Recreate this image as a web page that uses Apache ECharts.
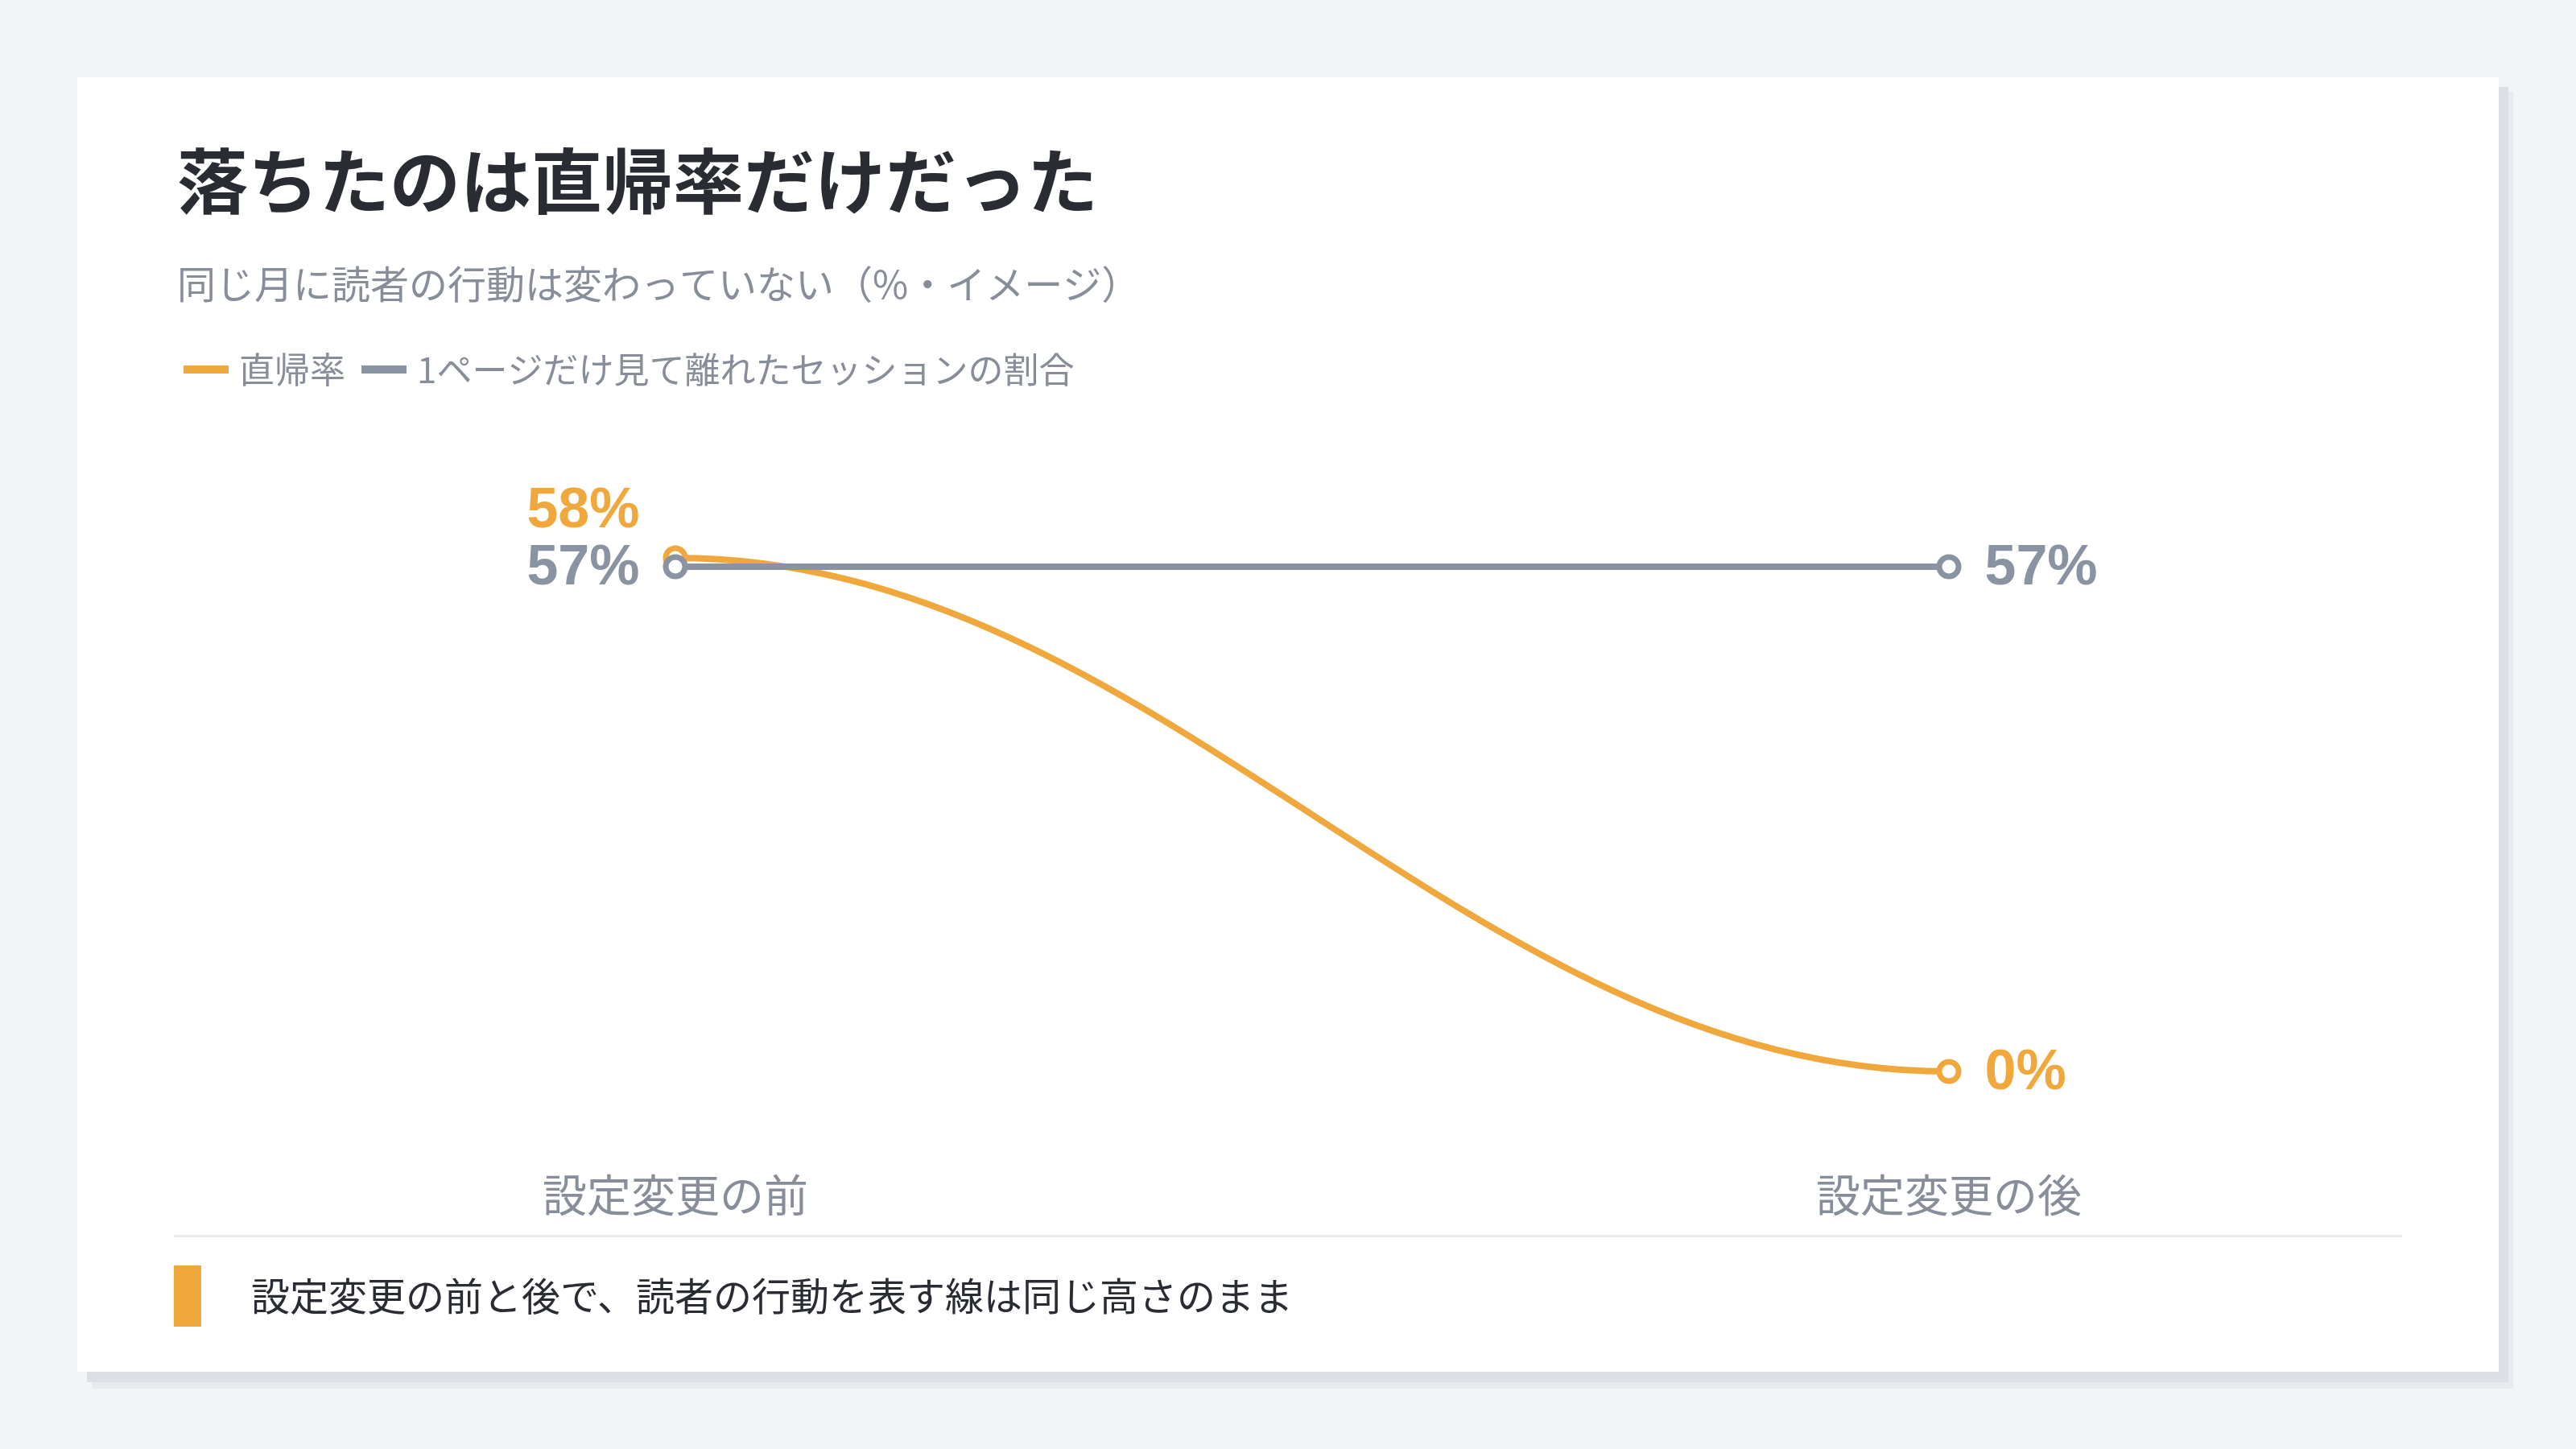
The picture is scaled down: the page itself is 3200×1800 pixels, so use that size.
<!DOCTYPE html>
<html>
<head>
<meta charset="utf-8">
<script src="https://cdn.jsdelivr.net/npm/echarts@6/dist/echarts.min.js"></script>
<style>
html,body{margin:0;padding:0;background:#f3f4f8;}
#chart{width:3200px;height:1800px;}
</style>
</head>
<body>
<div id="chart"></div>
<script>
const categories = ['設定変更の前', '設定変更の後'];
const bounceRate = [58, 0];
const singlePageRate = [57, 57];
const seriesNames = ['直帰率', '1ページだけ見て離れたセッションの割合'];
const titleText = '落ちたのは直帰率だけだった';
const subtitleText = '同じ月に読者の行動は変わっていない（%・イメージ）';
const noteText = '設定変更の前と後で、読者の行動を表す線は同じ高さのまま';

const ORANGE = '#F0A83C';
const GRAY = '#8A93A1';
const TEXT_GRAY = '#878D99';
const DARK = '#2A2C33';
const CJK = "'Noto Sans CJK JP', 'Noto Sans', sans-serif";
const NUM = "'Liberation Sans', 'Noto Sans CJK JP', sans-serif";

function pointData(values, leftOffset) {
  return values.map((v, i) => ({
    value: [i, v],
    label: {
      position: i === 0 ? 'left' : 'right',
      offset: i === 0 ? leftOffset : [0, 3]
    }
  }));
}

function markerSeries(name, values, color, z, leftOffset) {
  return {
    name: name,
    type: 'scatter',
    z: z,
    clip: false,
    data: pointData(values, leftOffset),
    symbol: 'circle',
    symbolSize: 24,
    itemStyle: {color: '#ffffff', borderColor: color, borderWidth: 7, opacity: 1},
    label: {show: true, formatter: p => p.value[1] + '%', color: color, fontSize: 70, fontWeight: 'bold', fontFamily: NUM, distance: 29}
  };
}

const chart = echarts.init(document.getElementById('chart'), null, {renderer: 'canvas'});
chart.setOption({
  backgroundColor: '#f3f4f8',
  animation: false,
  graphic: [
    {type: 'rect', z: -10, shape: {x: 114, y: 114, width: 3008, height: 1611}, style: {fill: '#e9eaef'}},
    {type: 'rect', z: -9, shape: {x: 108, y: 108, width: 3008, height: 1609}, style: {fill: '#dcdfe5'}},
    {type: 'rect', z: -8, shape: {x: 96, y: 96, width: 3008, height: 1608}, style: {fill: '#ffffff'}},
    {type: 'text', z: 1, x: 220, y: 225, style: {text: titleText, fill: DARK, font: 'bold 88px ' + CJK, verticalAlign: 'middle'}},
    {type: 'text', z: 1, x: 220, y: 353, style: {text: subtitleText, fill: TEXT_GRAY, font: '48px ' + CJK, verticalAlign: 'middle'}},
    {type: 'rect', z: 1, shape: {x: 216, y: 1534, width: 2768, height: 3}, style: {fill: '#e9ebef'}},
    {type: 'rect', z: 1, shape: {x: 216, y: 1572, width: 34, height: 76}, style: {fill: ORANGE}},
    {type: 'text', z: 1, x: 312, y: 1610, style: {text: noteText, fill: DARK, font: '48px ' + CJK, verticalAlign: 'middle'}}
  ],
  legend: {
    left: 223,
    top: 429,
    icon: 'rect',
    itemWidth: 56,
    itemHeight: 10,
    itemGap: 20,
    itemStyle: {borderWidth: 0},
    data: [
      {name: seriesNames[0], itemStyle: {color: ORANGE, borderWidth: 0}},
      {name: seriesNames[1], itemStyle: {color: GRAY, borderWidth: 0}}
    ],
    textStyle: {color: TEXT_GRAY, fontSize: 44, fontFamily: CJK, lineHeight: 50, padding: [0, 0, 0, 8]}
  },
  grid: {left: 839, right: 779, top: 671, bottom: 469, containLabel: false},
  xAxis: {
    type: 'category',
    data: categories,
    boundaryGap: false,
    axisLine: {show: false},
    axisTick: {show: false},
    splitLine: {show: false},
    axisLabel: {color: TEXT_GRAY, fontSize: 55, fontFamily: CJK, margin: 126, lineHeight: 55}
  },
  yAxis: {
    type: 'value', min: 0, max: 60, show: false,
    splitLine: {show: false}
  },
  series: [
    {
      name: seriesNames[0],
      type: 'custom',
      z: 2,
      clip: false,
      itemStyle: {color: ORANGE},
      data: bounceRate.map((v, i) => [i, v]),
      encode: {x: 0, y: 1},
      renderItem: function (params, api) {
        const i = params.dataIndex;
        if (i === 0) return null;
        const p0 = api.coord([i - 1, bounceRate[i - 1]]);
        const p1 = api.coord([i, bounceRate[i]]);
        const k = 0.38 * (p1[0] - p0[0]);
        return {
          type: 'bezierCurve',
          shape: {x1: p0[0], y1: p0[1], cpx1: p0[0] + k, cpy1: p0[1], cpx2: p1[0] - k, cpy2: p1[1], x2: p1[0], y2: p1[1]},
          style: {stroke: ORANGE, lineWidth: 8, fill: null, lineCap: 'round'}
        };
      }
    },
    markerSeries(seriesNames[0], bounceRate, ORANGE, 3, [0, -57]),
    {
      name: seriesNames[1],
      type: 'line',
      z: 4,
      clip: false,
      data: singlePageRate,
      color: GRAY,
      symbol: 'none',
      showSymbol: false,
      lineStyle: {width: 8, color: GRAY}
    },
    markerSeries(seriesNames[1], singlePageRate, GRAY, 5, [0, 3])
  ]
});
</script>
</body>
</html>
